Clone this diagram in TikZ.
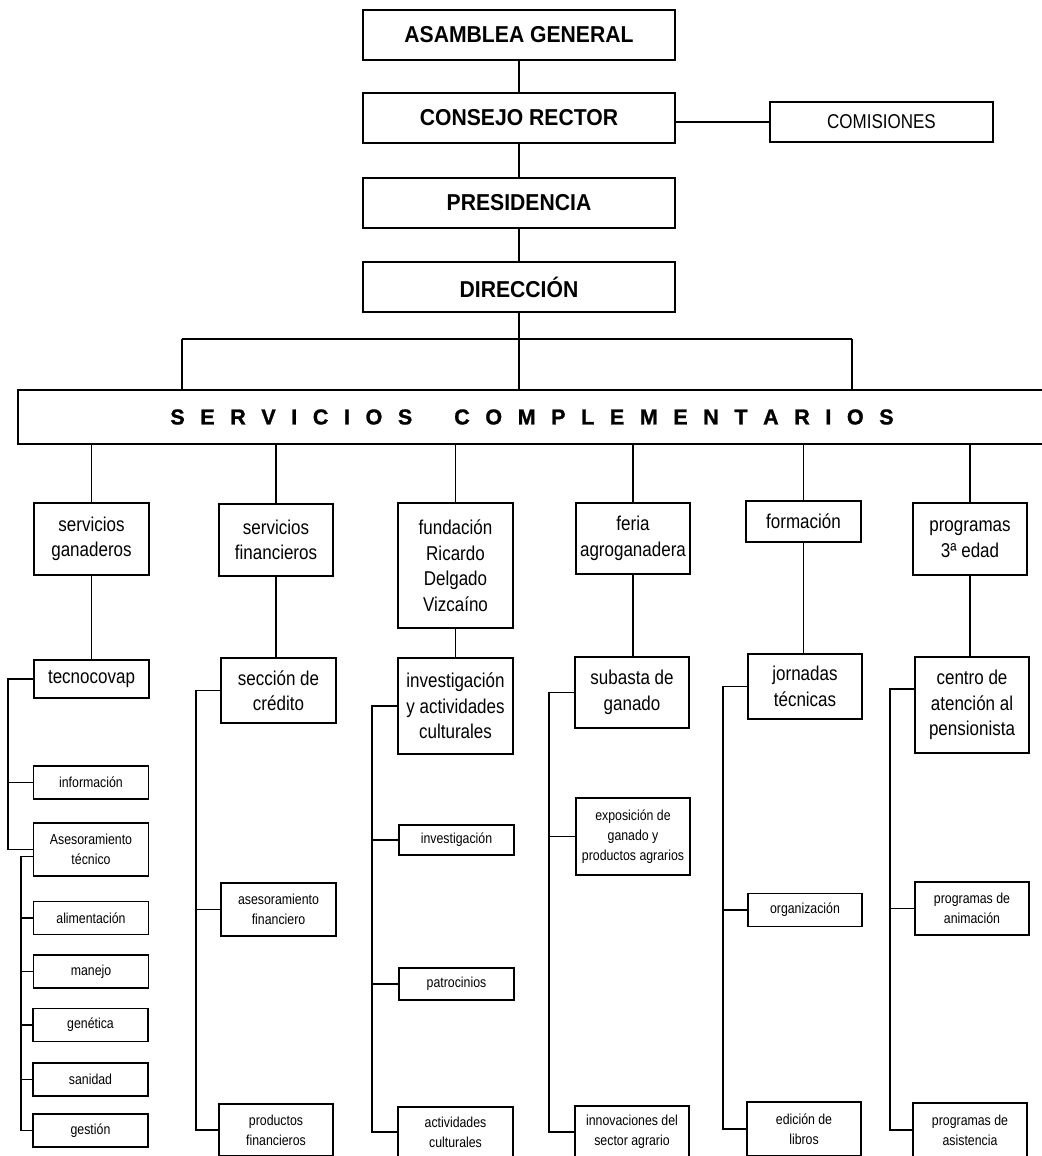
\documentclass[tikz,border=0pt]{standalone}
\usepackage{fontspec}
\setmainfont{Liberation Sans}
\newfontfamily\topfont[FakeStretch=0.92]{Liberation Sans}
\newfontfamily\condfont[FakeStretch=0.85]{Liberation Sans}
\newfontfamily\servfont[FakeBold=1.2]{Liberation Sans}
\def\lsp{\kern15.6pt}
\begin{document}
\begin{tikzpicture}[x=1pt,y=-1pt,
  topbox/.style={draw, line width=1.8pt, minimum width=312pt, minimum height=50pt, inner sep=0pt, font=\topfont\bfseries\fontsize{23}{27}\selectfont},
  combox/.style={draw, line width=1.4pt, minimum width=223pt, minimum height=40pt, inner sep=0pt, font=\condfont\fontsize{20}{24}\selectfont},
  servbox/.style={draw, line width=1.6pt, minimum width=1028pt, minimum height=54pt, inner sep=0pt, font=\servfont\bfseries\fontsize{21.5}{25}\selectfont},
  midbox/.style={draw, line width=1.6pt, inner sep=0pt, align=center, font=\condfont\fontsize{20}{25.5}\selectfont},
  smallbox/.style={draw, line width=1.5pt, inner sep=0pt, align=center, font=\condfont\fontsize{14.5}{20}\selectfont},
  sz/.style 2 args={minimum width=#1pt, minimum height=#2pt},
  link/.style={line width=1.3pt},
  brk/.style={line width=1.5pt}]
\fill[white] (0,0) rectangle (1041,1156);
\useasboundingbox (0,0) rectangle (1041,1156);

% top chain
\node[topbox] (asam) at (519,35) {ASAMBLEA GENERAL};
\node[topbox] (cons) at (519,118) {CONSEJO RECTOR};
\node[topbox] (pres) at (519,203) {PRESIDENCIA};
\node[topbox] (dir) at (519,287) {DIRECCIÓN};
\node[combox] (com) at (881.5,122) {COMISIONES};
\node[servbox] (serv) at (532,417) {S\lsp E\lsp R\lsp V\lsp I\lsp C\lsp I\lsp O\lsp S\kern42pt C\lsp O\lsp M\lsp P\lsp L\lsp E\lsp M\lsp E\lsp N\lsp T\lsp A\lsp R\lsp I\lsp O\lsp S};

% level 1
\node[midbox, sz={115}{72}] (sg) at (91.5,539) {servicios\\ganaderos};
\node[midbox, sz={114}{72}] (sf) at (276,540) {servicios\\financieros};
\node[midbox, sz={115}{125}] (fu) at (455.5,565.5) {fundación\\Ricardo\\Delgado\\Vizcaíno};
\node[midbox, sz={114}{71}] (fe) at (633,538.5) {feria\\agroganadera};
\node[midbox, sz={115}{41}] (fo) at (803.5,521.5) {formación};
\node[midbox, sz={114}{72}] (pr) at (970,539) {programas\\3ª edad};

% level 2
\node[midbox, sz={115}{38}] (tec) at (91.5,679) {tecnocovap};
\node[midbox, sz={115}{65}] (sc) at (278.5,690.5) {sección de\\crédito};
\node[midbox, sz={115}{96}] (iac) at (455.5,706) {investigación\\y actividades\\culturales};
\node[midbox, sz={114}{71}] (sub) at (632,692.5) {subasta de\\ganado};
\node[midbox, sz={114}{65}] (jor) at (805,686.5) {jornadas\\técnicas};
\node[midbox, sz={114}{96}] (cen) at (972,705) {centro de\\atención al\\pensionista};

% level 3 - column 1
\node[smallbox, sz={115}{33}] (inf) at (91,782.5) {información};
\node[smallbox, sz={115}{53}] (ase) at (91,849.5) {Asesoramiento\\técnico};
\node[smallbox, sz={115}{33}] (ali) at (91,918) {alimentación};
\node[smallbox, sz={115}{33}] (man) at (91,971.5) {manejo};
\node[smallbox, sz={115}{33}] (gen) at (90.5,1025) {genética};
\node[smallbox, sz={115}{33}] (san) at (90.5,1079.5) {sanidad};
\node[smallbox, sz={115}{33}] (ges) at (90.5,1130.5) {gestión};
% column 2
\node[smallbox, sz={115}{53}] (af) at (278.5,909.5) {asesoramiento\\financiero};
\node[smallbox, sz={114}{52}] (pf) at (276,1130) {productos\\financieros};
% column 3
\node[smallbox, sz={115}{30}] (inv) at (456.5,840) {investigación};
\node[smallbox, sz={115}{32}] (pat) at (456.5,984) {patrocinios};
\node[smallbox, sz={115}{50}] (ac) at (455.5,1132) {actividades\\culturales};
% column 4
\node[smallbox, sz={114}{77}] (exp) at (633,836.5) {exposición de\\ganado y\\productos agrarios};
\node[smallbox, sz={114}{52}] (inn) at (632,1132) {innovaciones del\\sector agrario};
% column 5
\node[smallbox, sz={114}{33}] (org) at (805,910) {organización};
\node[smallbox, sz={114}{54}] (edi) at (804,1129) {edición de\\libros};
% column 6
\node[smallbox, sz={114}{53}] (pa) at (972,908.5) {programas de\\animación};
\node[smallbox, sz={114}{54}] (pas) at (970,1130) {programas de\\asistencia};

% top connectors
\draw[link] (asam) -- (cons);
\draw[link] (cons) -- (pres);
\draw[link] (pres) -- (dir);
\draw[link] (com.west -| cons.east) -- (com.west);
\draw[link] (dir.south) -- (dir.south |- serv.north);
\coordinate (hl) at (182,339);
\coordinate (hr) at (852,339);
\draw[link] (hl) -- (hr);
\draw[link] (hl) -- (hl |- serv.north);
\draw[link] (hr) -- (hr |- serv.north);
\foreach \n in {sg,sf,fu,fe,fo,pr} \draw[link] (\n.north) -- (\n.north |- serv.south);

% level 1 to level 2
\draw[brk] (sg.south) -- (sg.south |- tec.north);
\draw[brk] (sf.south) -- (sf.south |- sc.north);
\draw[brk] (fu.south) -- (fu.south |- iac.north);
\draw[brk] (fe.south) -- (fe.south |- sub.north);
\draw[brk] (fo.south) -- (fo.south |- jor.north);
\draw[brk] (pr.south) -- (pr.south |- cen.north);

% brackets
\coordinate (b1) at (8,0);
\coordinate (b1s) at (21,0);
\coordinate (b2) at (196,0);
\coordinate (b3) at (372,0);
\coordinate (b4) at (549,0);
\coordinate (b5) at (723,0);
\coordinate (b6) at (890,0);
\coordinate (ase2) at ([yshift=-7pt]ase.west);
\coordinate (cen2) at ([yshift=16pt]cen.west);

\draw[brk] (tec.west) -- (tec.west -| b1) |- (ase.west);
\draw[brk] (inf.west) -- (inf.west -| b1);
\draw[brk] (ase2) -- (ase2 -| b1s) |- (ges.west);
\foreach \n in {ali,man,gen,san} \draw[brk] (\n.west) -- (\n.west -| b1s);

\draw[brk] (sc.west) -- (sc.west -| b2) |- (pf.west);
\draw[brk] (af.west) -- (af.west -| b2);

\draw[brk] (iac.west) -- (iac.west -| b3) |- (ac.west);
\foreach \n in {inv,pat} \draw[brk] (\n.west) -- (\n.west -| b3);

\draw[brk] (sub.west) -- (sub.west -| b4) |- (inn.west);
\draw[brk] (exp.west) -- (exp.west -| b4);

\draw[brk] (jor.west) -- (jor.west -| b5) |- (edi.west);
\draw[brk] (org.west) -- (org.west -| b5);

\draw[brk] (cen2) -- (cen2 -| b6) |- (pas.west);
\draw[brk] (pa.west) -- (pa.west -| b6);
\end{tikzpicture}
\end{document}
